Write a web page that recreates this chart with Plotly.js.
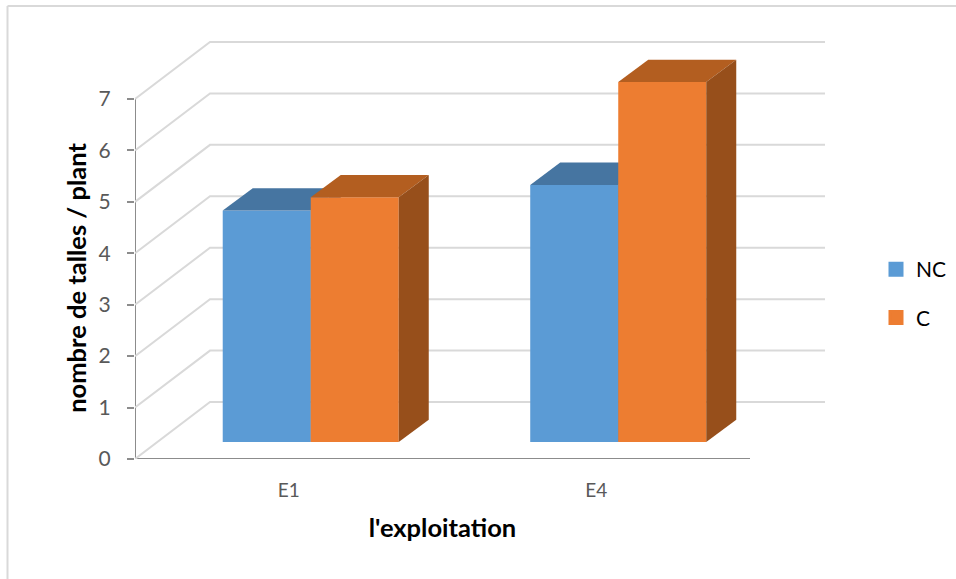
<!DOCTYPE html>
<html>
<head>
<meta charset="utf-8">
<script src="https://cdn.plot.ly/plotly-3.0.1.min.js"></script>
<style>html,body{margin:0;padding:0;background:#fff}#c{width:956px;height:579px}</style>
</head>
<body>
<div id="c"></div>
<script>
var categories = ['E1', 'E4'];
var seriesNC = [4.5, 5.0];
var seriesC = [4.76, 7.0];
var seriesNames = ['NC', 'C'];
var yTicks = [0, 1, 2, 3, 4, 5, 6, 7];

var pos = categories.map(function (c, i) { return i; });
var wallDx = 0.2439, wallDy = 1.108;      // back wall offset
var depthDx = 0.0976, depthDy = 0.434;    // column depth
var floorY = 0.33;                        // column floor above the axis
var barW = 0.2862, shift = 0.0715;
var PW = 821, PH = 439;                   // plot box in pixels
var UNIT = 51.43;                         // pixels per y unit
var AXIS_H = 362;                         // pixels of the main y axis
var X0 = -0.5, X1 = 1.5, XW = X0 + PW / 307.5, YT = PH / UNIT;
var grid = '#d9d9d9', axisCol = '#8c8c8c';

function poly(xs, ys, color, xa, ya) {
  return { type: 'scatter', mode: 'lines', x: xs, y: ys, fill: 'toself', fillcolor: color,
    line: { width: 0, color: color }, xaxis: xa, yaxis: ya, showlegend: false, hoverinfo: 'skip' };
}
function column(vals, offset, name, front, top, side, xa, ya) {
  var x = pos.map(function (p) { return p + shift + offset; });
  var out = [{ type: 'bar', name: name, x: x, y: vals, base: vals.map(function () { return floorY; }),
    width: barW, marker: { color: front, line: { width: 0 } }, xaxis: xa, yaxis: ya, showlegend: false, hoverinfo: 'skip' }];
  x.forEach(function (c, i) {
    var l = c - barW / 2, r = c + barW / 2, t = floorY + vals[i];
    out.push(poly([l, l + depthDx, r + depthDx, r, l], [t, t + depthDy, t + depthDy, t, t], top, xa, ya));
    out.push(poly([r, r + depthDx, r + depthDx, r, r], [floorY, floorY + depthDy, t + depthDy, t, floorY], side, xa, ya));
  });
  return out;
}
function legendKey(name, color, xa, ya) {
  return { type: 'bar', name: name, legendgroup: name, x: [null], y: [null], xaxis: xa, yaxis: ya, hoverinfo: 'skip',
    marker: { color: color, line: { width: 3, color: color } } };
}

var traces = [];
traces.push({ type: 'scatter', mode: 'lines', x: [X0, X1], y: [0, 0], line: { color: axisCol, width: 2 }, cliponaxis: false, showlegend: false, hoverinfo: 'skip' });
traces.push({ type: 'scatter', mode: 'lines', x: [X0, X0], y: [0, yTicks[yTicks.length - 1]], line: { color: axisCol, width: 2 }, cliponaxis: false, showlegend: false, hoverinfo: 'skip' });
yTicks.forEach(function (v) {
  traces.push({ type: 'scatter', mode: 'lines',
    x: [X0, X0 + wallDx, X1 + wallDx], y: [v, v + wallDy, v + wallDy],
    line: { color: grid, width: 2 }, xaxis: 'x2', yaxis: 'y2', showlegend: false, hoverinfo: 'skip' });
});
traces = traces.concat(column(seriesNC, -barW / 2, seriesNames[0], '#5b9bd5', '#4675a1', '#3c6a94', 'x3', 'y3'));
traces = traces.concat(column(seriesC, barW / 2, seriesNames[1], '#ed7d31', '#b35e20', '#974f1b', 'x4', 'y4'));
traces.push(legendKey(seriesNames[0], '#5b9bd5', 'x3', 'y3'));
traces.push(legendKey(seriesNames[1], '#ed7d31', 'x4', 'y4'));

var wideX = { domain: [0, 1], range: [X0, XW], visible: false, fixedrange: true };
var hiddenY = { domain: [0, 1], range: [0, YT], visible: false, fixedrange: true };
function clone(o, extra) { return Object.assign({}, o, extra); }
function px(v) { return (v - 135) / PW; }
function py(v) { return (459 - v) / PH; }

var layout = {
  width: 956, height: 579,
  margin: { l: 135, r: 0, t: 20, b: 120 },
  paper_bgcolor: '#fff', plot_bgcolor: 'rgba(0,0,0,0)',
  font: { family: 'Lato, sans-serif', color: '#595959' },
  barmode: 'overlay',
  showlegend: true,
  legend: { x: px(876), xanchor: 'left', y: py(249), yanchor: 'top', font: { size: 21, color: '#000' },
    traceorder: 'grouped', tracegroupgap: 18, itemwidth: 30, bgcolor: 'rgba(0,0,0,0)' },
  xaxis: { domain: [0, 615 / PW], range: [X0, X1], tickmode: 'array', tickvals: pos, ticktext: categories,
    ticks: '', showgrid: false, zeroline: false, showline: false, tickfont: { size: 19, color: '#595959' },
    ticklabelstandoff: 18,
    title: { text: "l'exploitation", font: { size: 25.5, color: '#000', weight: 'bold' }, standoff: 19 }, fixedrange: true },
  yaxis: { domain: [0, AXIS_H / PH], range: [0, AXIS_H / UNIT], tickmode: 'array', tickvals: yTicks, ticks: 'outside', ticklen: 7, tickwidth: 2,
    tickcolor: axisCol, showgrid: false, zeroline: false, showline: false, tickfont: { size: 21, color: '#595959' },
    ticklabelstandoff: 12,
    title: { text: 'nombre de talles / plant', font: { size: 25.5, color: '#000', weight: 'bold' }, standoff: 4 }, fixedrange: true },
  xaxis2: clone(wideX, { anchor: 'y2' }), yaxis2: clone(hiddenY, { anchor: 'x2' }),
  xaxis3: clone(wideX, { anchor: 'y3' }), yaxis3: clone(hiddenY, { anchor: 'x3' }),
  xaxis4: clone(wideX, { anchor: 'y4' }), yaxis4: clone(hiddenY, { anchor: 'x4' }),
  shapes: [
    { type: 'line', xref: 'paper', yref: 'paper', x0: px(7.5), x1: px(956), y0: py(6), y1: py(6), line: { color: grid, width: 2 } },
    { type: 'line', xref: 'paper', yref: 'paper', x0: px(7.5), x1: px(7.5), y0: py(6), y1: py(579), line: { color: grid, width: 2 } }
  ]
};
Plotly.newPlot('c', traces, layout, { displayModeBar: false, staticPlot: true });
</script>
</body>
</html>
